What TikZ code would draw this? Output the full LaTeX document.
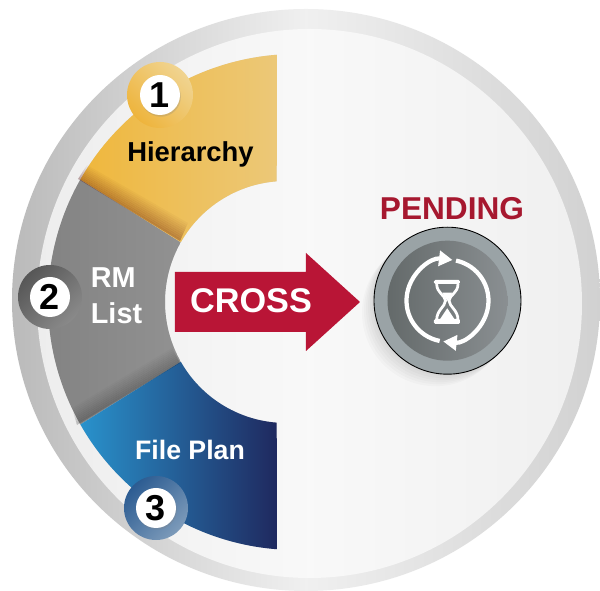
\documentclass[tikz,border=0pt]{standalone}
\usepackage{fontspec}
\setmainfont{Liberation Sans}
\usepackage{xcolor}
\usetikzlibrary{calc,arrows.meta,shadows}
\definecolor{crossred}{HTML}{B91536}
\definecolor{pendred}{HTML}{A6182F}
\newcommand{\wedgeshape}[2]{($(cO)+(#1:248)$) arc[start angle=#1,end angle=#2,radius=248] -- ($(cI)+(#2:121)$) arc[start angle=#2,end angle=#1,radius=121] -- cycle}
\begin{document}
\begin{tikzpicture}[x=0.02cm,y=0.02cm,
    wedge label/.style={font=\bfseries\fontsize{15.6}{20.4}\selectfont, align=left, inner sep=0pt},
    num badge/.style={draw=none, circle, fill=white, minimum size=0.8cm, inner sep=0pt, text=black, font=\bfseries\fontsize{20.5}{22}\selectfont, drop shadow={shadow xshift=0.5pt,shadow yshift=-1pt,opacity=0.25}},
    pend arrow/.style={draw=white, line width=0.085cm, -{Triangle[width=0.3cm,length=0.27cm]}}]
    \useasboundingbox (0,0) rectangle (600,591);
    \fill[white] (0,0) rectangle (600,591);
    \clip (0,0) rectangle (600,591);

    \shade[left color=black!27, right color=black!18, middle color=black!6] (306,291) ellipse [x radius=294, y radius=291];
    \shade[left color=black!7, right color=black!6, middle color=black!2.5] (309.5,287.5) ellipse [x radius=272.5, y radius=274.5];

    \coordinate (cO) at (296,289);
    \coordinate (cI) at (286,289);

    \foreach \d in {2,4,6,8} {
        \fill[black,opacity=0.025,shift={(\d,-\d)}] \wedgeshape{94.4}{150.4};
        \fill[black,opacity=0.025,shift={(\d,-\d)}] \wedgeshape{209.6}{265.6};
    }
    \foreach \d in {2,4,6,8}
        \fill[black,opacity=0.025,shift={(\d,-\d)}] \wedgeshape{150.4}{209.6};

    \shade[left color=black!49, right color=black!43] \wedgeshape{150.4}{209.6};
    \shade[left color={rgb,255:red,239;green,183;blue,60}, right color={rgb,255:red,236;green,200;blue,120}] \wedgeshape{94.4}{150.4};
    \shade[left color={rgb,255:red,41;green,146;blue,204}, right color={rgb,255:red,31;green,41;blue,95}] \wedgeshape{209.6}{265.6};

    \coordinate (goldA) at (78,412);
    \coordinate (goldB) at (180,350);
    \coordinate (goldC) at (188,368);
    \coordinate (goldD) at (87,426);
    \coordinate (greyA) at (77,166);
    \coordinate (greyB) at (180,228);
    \coordinate (greyC) at (172,243);
    \coordinate (greyD) at (72,183);
    \foreach \i in {0,...,9} {
        \pgfmathsetmacro{\ta}{\i/10}
        \pgfmathsetmacro{\tb}{(\i+1)/10}
        \pgfmathsetmacro{\op}{0.3*(1-\i/10)}
        \fill[black!70!red,opacity=\op] ($(goldA)!\ta!(goldD)$) -- ($(goldB)!\ta!(goldC)$) -- ($(goldB)!\tb!(goldC)$) -- ($(goldA)!\tb!(goldD)$) -- cycle;
        \pgfmathsetmacro{\op}{0.2*(1-\i/10)}
        \fill[black,opacity=\op] ($(greyA)!\ta!(greyD)$) -- ($(greyB)!\ta!(greyC)$) -- ($(greyB)!\tb!(greyC)$) -- ($(greyA)!\tb!(greyD)$) -- cycle;
    }

    \shade[top color={rgb,255:red,238;green,180;blue,60}, bottom color={rgb,255:red,240;green,212;blue,145}, shading angle=135] (160,496) circle [radius=33];
    \shade[top color=black!66, bottom color=black!46, shading angle=45] (50,294) circle [radius=32];
    \shade[top color={rgb,255:red,44;green,92;blue,146}, bottom color={rgb,255:red,125;green,155;blue,186}, shading angle=45] (156,83) circle [radius=32];

    \node[num badge] (one) at (160,496) {1};
    \node[num badge] (two) at (50,294) {2};
    \node[num badge] (three) at (156,83) {3};

    \node[wedge label, text=black] (hier) at (190.5,437) {Hierarchy};
    \node[wedge label, text=white, font=\bfseries\fontsize{16.4}{20.4}\selectfont] (rm) at (116.5,295) {RM\\List};
    \node[wedge label, text=white, font=\bfseries\fontsize{15.2}{20}\selectfont] (plan) at (190,141) {File Plan};

    \fill[crossred] (175,319) -- (306,319) -- (306,338) -- (360,289) -- (306,240) -- (306,259) -- (175,259) -- cycle;
    \node[text=white, font=\bfseries\fontsize{19.5}{22}\selectfont, inner sep=0pt] (cross) at (251,290) {CROSS};

    \node[text=pendred, font=\bfseries\fontsize{18}{20}\selectfont, inner sep=0pt] (pend) at (452,382) {PENDING};

    \coordinate (hg) at (447.5,290.3);
    \foreach \d in {2,4,...,12}
        \fill[black,opacity=0.018] ($(hg)+(-\d,-\d)$) circle [radius=73.5];
    \fill[fill={rgb,255:red,154;green,163;blue,166}, draw=black, line width=0.5pt] (hg) circle [radius=73.5];
    \shade[left color={rgb,255:red,100;green,106;blue,106}, right color={rgb,255:red,138;green,143;blue,146}] (hg) circle [radius=60];

    \draw[pend arrow] ($(hg)+(259:41)$) arc[start angle=259,end angle=83,radius=41];
    \draw[pend arrow] ($(hg)+(78:41)$) arc[start angle=78,end angle=-96,radius=41];

    \fill[white, rounded corners=0.8pt] (434,307) rectangle (460,311);
    \fill[white, rounded corners=0.8pt] (434,267) rectangle (460,272);
    \draw[white, line width=0.055cm] (436.7,307) .. controls (436.7,298) and (445,296) .. (445.5,290.3) .. controls (445,284) and (436.7,281) .. (436.7,271);
    \draw[white, line width=0.055cm] (458,307) .. controls (458,298) and (449.5,296) .. (449,290.3) .. controls (449.5,284) and (458,281) .. (458,271);
    \fill[white] (442.3,298.3) -- (452.3,298.3) -- (447.3,290) -- cycle;
    \fill[white] (439.5,271) -- (455,271) -- (447.3,282.7) -- cycle;
\end{tikzpicture}
\end{document}
